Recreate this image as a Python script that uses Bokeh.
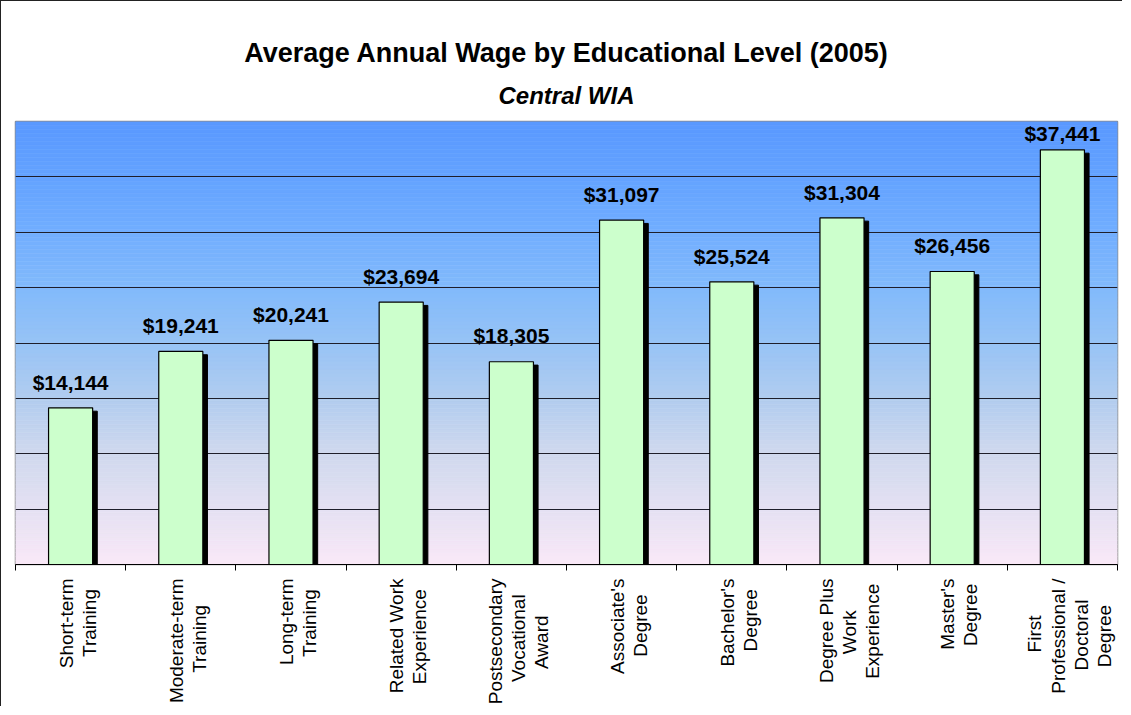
import numpy as np
from bokeh.plotting import figure
from bokeh.models import Range1d, FixedTicker, Title, ColumnDataSource, LabelSet
from bokeh.embed import file_html
from bokeh.resources import INLINE
from bokeh.core.properties import value

# ---- data ----
categories = [
    "Short-term\nTraining",
    "Moderate-term\nTraining",
    "Long-term\nTraining",
    "Related Work\nExperience",
    "Postsecondary\nVocational\nAward",
    "Associate's\nDegree",
    "Bachelor's\nDegree",
    "Degree Plus\nWork\nExperience",
    "Master's\nDegree",
    "First\nProfessional /\nDoctoral\nDegree",
]
wages = [14144, 19241, 20241, 23694, 18305, 31097, 25524, 31304, 26456, 37441]
y_ticks = [0, 5000, 10000, 15000, 20000, 25000, 30000, 35000, 40000]
title_text = "Average Annual Wage by Educational Level (2005)"
subtitle_text = "Central WIA"

FONT = "Liberation Sans"
n = len(categories)
ymax = y_ticks[-1]
centers = np.arange(n) + 0.5
bounds = list(range(n + 1))
w = np.array(wages, dtype=float)

# approximate glyph advance widths (Arial/Liberation Sans metrics, per 1000 em)
ADV = {"A": 667, "B": 667, "D": 722, "E": 667, "F": 611, "L": 556, "M": 833, "P": 667,
       "R": 722, "S": 667, "T": 611, "V": 667, "W": 944, "a": 556, "b": 556, "c": 500,
       "d": 556, "e": 556, "f": 278, "g": 556, "h": 556, "i": 222, "k": 500, "l": 222,
       "m": 833, "n": 556, "o": 556, "p": 556, "r": 333, "s": 500, "t": 278, "u": 556,
       "v": 500, "w": 722, "x": 500, "y": 500, "'": 191, "-": 333, "/": 278, " ": 278}


def centered_lines(label):
    """Pad lines with no-break spaces so that lines look centred in a right-aligned block."""
    lines = label.split("\n")
    widths = [sum(ADV.get(ch, 556) for ch in ln) for ln in lines]
    mw = max(widths)
    return "\n".join(ln + "\u00a0" * int(round((mw - wd) / 2 / 278)) for ln, wd in zip(lines, widths))


p = figure(width=1122, height=706, x_range=Range1d(0, n), y_range=Range1d(0, ymax),
           output_backend="svg", toolbar_location=None,
           min_border_left=14, min_border_right=6, min_border_top=120, min_border_bottom=10,
           background_fill_color="white", border_fill_color="white")
p.styles = {"border-left": "1px solid #222", "border-top": "1px solid #222"}
p.outline_line_color = "#8c8c8c"
p.outline_line_width = 1.5

# ---- gradient plot background ----
stops_f = [0.0, 0.125, 0.25, 0.375, 0.5, 0.625, 0.75, 0.875, 1.0]
stops_r = [250, 229, 208, 178, 152, 130, 114, 100, 90]
stops_g = [233, 225, 217, 205, 196, 186, 174, 163, 153]
stops_b = [248, 243, 238, 240, 246, 252, 255, 255, 255]
edges = np.linspace(0, ymax, 112)
mids = (edges[:-1] + edges[1:]) / 2 / ymax
cols = ["#%02x%02x%02x" % (int(np.interp(f, stops_f, stops_r)), int(np.interp(f, stops_f, stops_g)),
                           int(np.interp(f, stops_f, stops_b))) for f in mids]
p.quad(left=0, right=n, bottom=edges[:-1], top=edges[1:], fill_color=cols, line_color=cols,
       line_width=0.6, level="image")

p.ygrid.ticker = FixedTicker(ticks=y_ticks)
p.ygrid.grid_line_color = "#1e1e2a"
p.ygrid.grid_line_width = 1
p.xgrid.visible = False
p.yaxis.visible = False

# ---- bars with shadow ----
src = ColumnDataSource(dict(
    x=centers, top=w, shadow_x=centers + 0.042, shadow_top=w - 300,
    label=[f"${v:,}" for v in wages],
    label_y=np.minimum(w + 1650, ymax - 1770),
))
p.vbar(x="shadow_x", top="shadow_top", bottom=0, width=0.4, source=src,
       fill_color="black", line_color="black")
p.vbar(x="x", top="top", bottom=0, width=0.4, source=src,
       fill_color="#ccffcc", line_color="black", line_width=1.2)

labels = LabelSet(x="x", y="label_y", text="label", source=src, text_align="center",
                  text_baseline="alphabetic", text_font=value(FONT), text_font_style="bold",
                  text_font_size="21px", text_color="black")
p.add_layout(labels)

# ---- x axis ----
label_pos = [round(float(c) + 0.065, 3) for c in centers]  # nudge for rotated block centring
ax = p.xaxis[0]
ax.ticker = FixedTicker(ticks=label_pos, minor_ticks=bounds)
ax.major_label_overrides = {lp: centered_lines(lab) for lp, lab in zip(label_pos, categories)}
ax.major_tick_out = 0
ax.major_tick_in = 0
ax.minor_tick_out = 6
ax.minor_tick_in = 0
ax.minor_tick_line_color = "black"
ax.axis_line_color = "black"
ax.axis_line_width = 1.2
ax.major_label_orientation = np.pi / 2
ax.major_label_standoff = 8
ax.major_label_text_font = FONT
ax.major_label_text_font_size = "19px"
ax.major_label_text_color = "black"
ax.major_label_text_line_height = 1.1

# ---- titles ----
p.add_layout(Title(text=subtitle_text, align="center", text_font=FONT, text_font_size="24px",
                   text_font_style="bold italic", text_color="black", standoff=25, offset=3,
                   text_line_height=0.8), "above")
p.add_layout(Title(text=title_text, align="center", text_font=FONT, text_font_size="27px",
                   text_font_style="bold", text_color="black", standoff=0, offset=3), "above")

open("out.html", "w").write(file_html(p, INLINE))
